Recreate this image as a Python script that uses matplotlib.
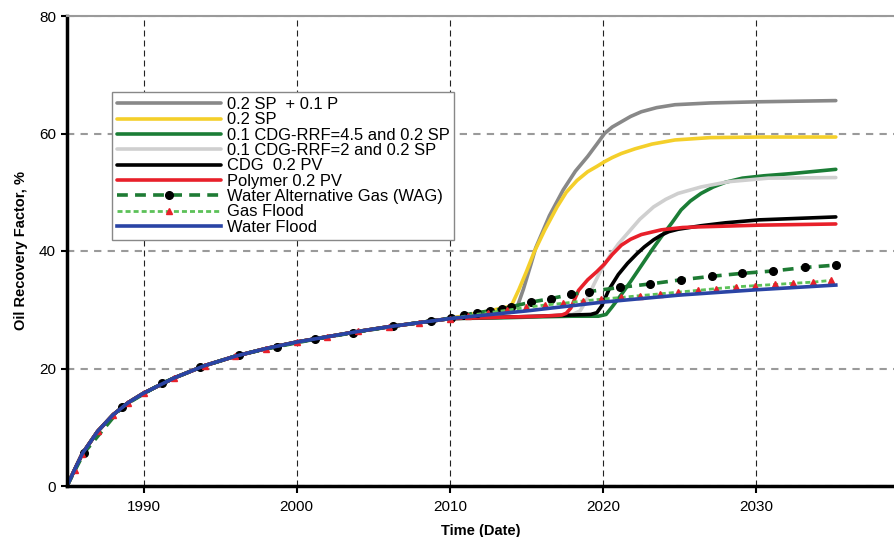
import matplotlib
matplotlib.use('Agg')
import matplotlib.pyplot as plt

plt.rcParams['font.family'] = ['Liberation Sans', 'DejaVu Sans']

# shared history (all cases follow the same curve up to 2010)
base_years = [1985, 1985.5, 1986, 1987, 1988, 1989, 1990, 1992, 1994, 1996,
              1998, 2000, 2002, 2004, 2006, 2008, 2010]
base_vals = [0, 2.8, 5.5, 9.3, 12.1, 14.2, 15.8, 18.4, 20.5, 22.1,
             23.4, 24.5, 25.4, 26.3, 27.1, 27.8, 28.5]

# forecasts after 2010
sp_p_years = [2012, 2014, 2014.4, 2014.8, 2015.3, 2015.6, 2016.5, 2017.4, 2018.2,
              2019.0, 2019.6, 2020.1, 2020.6, 2021.2, 2021.8, 2022.5, 2023.5,
              2024.7, 2027.0, 2030.2, 2035.2]
sp_p_vals = [29.5, 30.2, 30.5, 33.5, 37.8, 40.5, 46.0, 50.4, 53.6,
             56.1, 58.2, 60.0, 61.1, 62.0, 62.9, 63.7, 64.4,
             64.9, 65.2, 65.4, 65.6]

sp_years = [2012, 2014.0, 2014.5, 2015.0, 2015.5, 2016.2, 2017.0, 2017.6, 2018.3,
            2019.0, 2019.6, 2020.1, 2020.6, 2021.2, 2022.1, 2023.2, 2024.7,
            2027.0, 2030.2, 2035.2]
sp_vals = [29.5, 30.6, 33.4, 36.5, 39.8, 43.6, 47.5, 50.0, 52.0,
           53.5, 54.4, 55.2, 55.9, 56.6, 57.4, 58.2, 58.9,
           59.3, 59.4, 59.4]

cdg45_years = [2013, 2016, 2018, 2019.7, 2020.2, 2020.6, 2021.2, 2021.8, 2022.5,
               2023.2, 2023.8, 2024.5, 2025.1, 2025.7, 2026.4, 2027.2, 2028.0,
               2029.1, 2030.5, 2032.4, 2035.2]
cdg45_vals = [28.6, 28.8, 28.9, 28.9, 29.2, 30.5, 32.6, 34.8, 37.5,
              40.2, 42.4, 44.8, 47.0, 48.5, 49.8, 50.9, 51.7,
              52.4, 52.8, 53.2, 53.9]

cdg2_years = [2013, 2016, 2018.0, 2018.5, 2018.9, 2019.4, 2019.9, 2020.4, 2021.0,
              2021.6, 2022.4, 2023.3, 2024.1, 2024.9, 2026.4, 2028.2, 2030.8,
              2035.2]
cdg2_vals = [28.7, 28.9, 29.2, 29.8, 31.5, 34.3, 36.9, 39.0, 41.2,
             43.0, 45.4, 47.5, 48.8, 49.8, 50.9, 51.8, 52.4,
             52.5]

cdg_years = [2013, 2016, 2018, 2019.2, 2019.6, 2019.9, 2020.4, 2021.0, 2021.6,
             2022.2, 2022.7, 2023.3, 2023.8, 2024.3, 2024.9, 2026.4, 2028.0,
             2030.2, 2035.2]
cdg_vals = [28.7, 28.9, 29.1, 29.2, 29.5, 30.6, 33.5, 36.0, 37.9,
            39.5, 40.7, 41.9, 42.7, 43.3, 43.7, 44.3, 44.8,
            45.3, 45.8]

poly_years = [2013, 2016, 2017.3, 2017.6, 2017.9, 2018.4, 2019.0, 2019.6, 2020.1,
              2020.6, 2021.2, 2021.8, 2022.5, 2023.8, 2025.2, 2026.2, 2030.2,
              2035.2]
poly_vals = [28.7, 28.9, 29.1, 29.4, 30.3, 33.3, 35.1, 36.5, 37.8,
             39.4, 41.0, 42.0, 42.8, 43.6, 44.0, 44.1, 44.4,
             44.6]

wag_years = [1985, 1986.1, 1988.6, 1991.2, 1993.7, 1996.2, 1998.7, 2001.2, 2003.7,
             2006.3, 2008.8, 2010.1, 2010.9, 2011.8, 2012.6, 2013.4, 2014.0,
             2015.3, 2016.6, 2017.9, 2019.1, 2021.1, 2023.1, 2025.1, 2027.1,
             2029.1, 2031.1, 2033.2, 2035.2]
wag_vals = [0, 5.6, 13.5, 17.5, 20.2, 22.3, 23.7, 25.0, 26.1,
            27.2, 28.1, 28.6, 29.1, 29.5, 29.8, 30.1, 30.5,
            31.3, 31.9, 32.6, 33.1, 33.8, 34.4, 35.1, 35.7,
            36.2, 36.6, 37.2, 37.6]

gas_years = [2011.2, 2012.5, 2013.7, 2015.0, 2016.2, 2017.4, 2018.7, 2019.9,
             2021.2, 2022.4, 2023.7, 2024.9, 2026.2, 2027.4, 2028.7, 2029.9,
             2031.2, 2032.4, 2033.7, 2034.9]
gas_vals = [29.0, 29.5, 29.9, 30.4, 30.8, 31.1, 31.5, 31.8,
            32.1, 32.4, 32.7, 33.0, 33.3, 33.6, 33.9, 34.1,
            34.3, 34.5, 34.7, 35.0]

water_years = [2015, 2020, 2025, 2030, 2035.2]
water_vals = [29.8, 31.3, 32.5, 33.4, 34.2]

fig = plt.figure(figsize=(8.94, 5.37), dpi=100)
ax = fig.add_axes([67 / 894, 51 / 537, 1 - 67 / 894, 470 / 537])

lw = 2.6
solid_cases = [
    (sp_p_years, sp_p_vals, '#888888', '0.2 SP  + 0.1 P'),
    (sp_years, sp_vals, '#f4cf2a', '0.2 SP'),
    (cdg45_years, cdg45_vals, '#1b7d36', '0.1 CDG-RRF=4.5 and 0.2 SP'),
    (cdg2_years, cdg2_vals, '#cfcfcf', '0.1 CDG-RRF=2 and 0.2 SP'),
    (cdg_years, cdg_vals, '#000000', 'CDG  0.2 PV'),
    (poly_years, poly_vals, '#e8202a', 'Polymer 0.2 PV'),
]
for yrs, vals, col, lab in solid_cases:
    ax.plot(base_years + yrs, base_vals + vals, color=col, lw=lw, label=lab,
            solid_capstyle='round', solid_joinstyle='round')

ax.plot(wag_years, wag_vals, color='#1e7b34', lw=lw, ls=(0, (3, 2)),
        marker='o', ms=5.5, mfc='black', mec='black',
        markevery=list(range(1, len(wag_years))),
        label='Water Alternative Gas (WAG)')

gas_x = base_years + gas_years
gas_y = base_vals + gas_vals
ax.plot(gas_x, gas_y, color='#5cc158', lw=2.0, ls=(0, (1.8, 1.1)),
        marker='^', ms=4.5, mfc='#e8202a', mec='#e8202a',
        markevery=list(range(1, len(gas_x))), label='Gas Flood')

ax.plot(base_years + water_years, base_vals + water_vals, color='#2a44a5',
        lw=lw, label='Water Flood')

ax.set_xlim(1985, 2039)
ax.set_ylim(0, 80)
ax.set_xticks([1990, 2000, 2010, 2020, 2030])
ax.set_yticks([0, 20, 40, 60, 80])

ax.set_axisbelow(True)
ax.xaxis.grid(True, color='#222222', lw=0.8, ls=(0, (5.4, 3.6)))
ax.yaxis.grid(True, color='#9a9a9a', lw=1.5, ls=(0, (3.5, 3)))

ax.spines['left'].set_linewidth(2.5)
ax.spines['bottom'].set_linewidth(2.5)
ax.spines['top'].set_color('#9a9a9a')
ax.spines['top'].set_linewidth(1.5)
ax.spines['right'].set_visible(False)

ax.tick_params(axis='both', labelsize=11, direction='out', width=1.5,
               colors='black')
ax.tick_params(axis='y', length=4, pad=4)
ax.tick_params(axis='x', length=5, pad=5)

ax.set_xlabel('Time (Date)', fontsize=10.5, fontweight='bold', labelpad=7)
ax.set_ylabel('Oil Recovery Factor, %', fontsize=10.5, fontweight='bold',
              labelpad=8)

leg = ax.legend(loc='upper left', bbox_to_anchor=(0.054, 0.838),
                borderaxespad=0, fontsize=11.9, handlelength=6.3,
                handletextpad=0.35, labelspacing=0.02, borderpad=0.3,
                fancybox=False, framealpha=1, edgecolor='#888888')
leg.get_frame().set_linewidth(1.0)

fig.savefig('out.png', dpi=100)
